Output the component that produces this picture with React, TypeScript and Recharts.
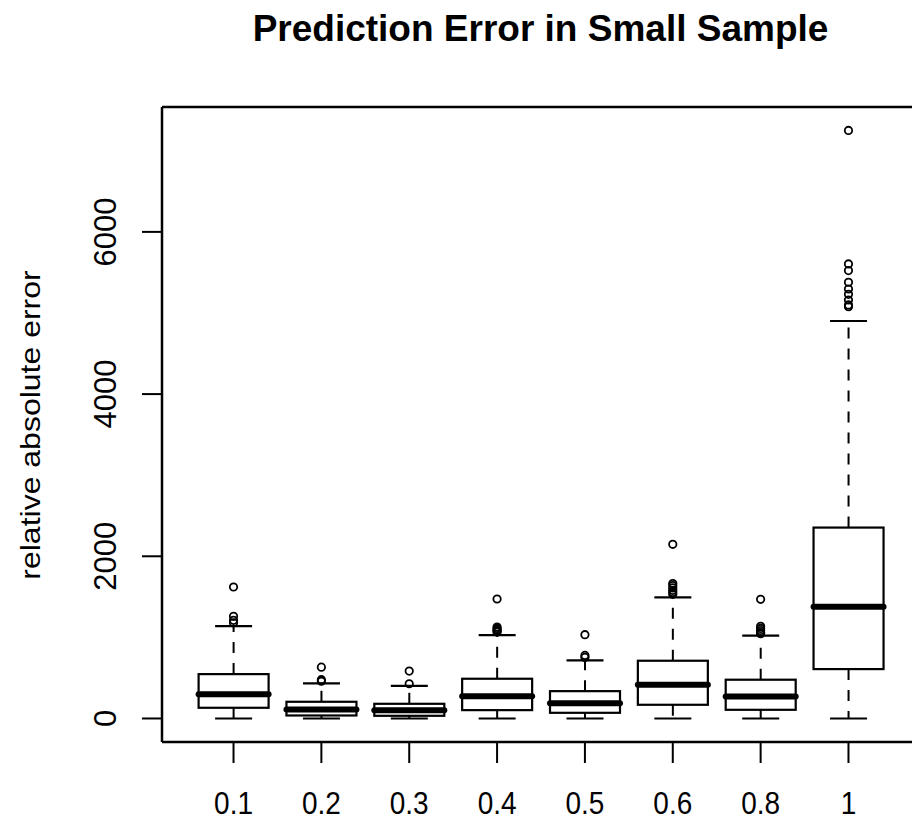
import React from 'react';
import { ComposedChart, Bar, Scatter, XAxis, YAxis, ReferenceLine } from 'recharts';

const categories = ['0.1', '0.2', '0.3', '0.4', '0.5', '0.6', '0.8', '1'];
const lowerWhisker = [0, 0, 0, 0, 0, 0, 0, 0];
const q1Values = [132, 37, 33, 103, 70, 169, 107, 609];
const medianValues = [300, 111, 103, 275, 189, 416, 272, 1379];
const q3Values = [547, 206, 181, 490, 337, 712, 478, 2354];
const upperWhisker = [1140, 432, 403, 1029, 716, 1494, 1021, 4901];

const outliers01 = [1621, 1260, 1210, 1180];
const outliers02 = [633, 478, 460];
const outliers03 = [584, 428];
const outliers04 = [1473, 1127, 1110, 1095, 1080, 1065];
const outliers05 = [1033, 778, 753];
const outliers06 = [2148, 1663, 1640, 1610, 1580, 1555, 1531];
const outliers08 = [1469, 1136, 1110, 1085, 1060, 1045];
const outliers1 = [7251, 5605, 5523, 5379, 5296, 5230, 5160, 5100, 5078];

const yTicks = [0, 2000, 4000, 6000];
const yDomain = [-290, 7540];

const FONT = '"Liberation Sans", Arial, Helvetica, sans-serif';
const CAP_HALF = 18.5;

const boxRows = categories.map((label, i) => ({
  label,
  seg0: q1Values[i] - lowerWhisker[i],
  seg1: medianValues[i] - q1Values[i],
  seg2: q3Values[i] - medianValues[i],
  seg3: upperWhisker[i] - q3Values[i],
}));

const outlierLists = [outliers01, outliers02, outliers03, outliers04, outliers05, outliers06, outliers08, outliers1];
const outlierRows = outlierLists.flatMap((list, i) => list.map((value) => ({ label: categories[i], value })));

const LowerWhiskerShape = (props: any) => {
  const { x, y, width, height } = props;
  const cx = x + width / 2;
  return (
    <g>
      <line x1={cx} y1={y} x2={cx} y2={y + height} stroke="#000" strokeWidth={2} strokeDasharray="11 10" />
      <line x1={cx - CAP_HALF} y1={y + height} x2={cx + CAP_HALF} y2={y + height} stroke="#000" strokeWidth={2.2} />
    </g>
  );
};

const LowerBoxShape = (props: any) => {
  const { x, y, width, height } = props;
  return <rect x={x} y={y} width={width} height={height} fill="none" stroke="#000" strokeWidth={2.2} />;
};

const UpperBoxShape = (props: any) => {
  const { x, y, width, height } = props;
  return (
    <g>
      <rect x={x} y={y} width={width} height={height} fill="none" stroke="#000" strokeWidth={2.2} />
      <line x1={x} y1={y + height} x2={x + width} y2={y + height} stroke="#000" strokeWidth={6} strokeLinecap="round" />
    </g>
  );
};

const UpperWhiskerShape = (props: any) => {
  const { x, y, width, height } = props;
  const cx = x + width / 2;
  return (
    <g>
      <line x1={cx} y1={y + height} x2={cx} y2={y} stroke="#000" strokeWidth={2} strokeDasharray="11 10" />
      <line x1={cx - CAP_HALF} y1={y} x2={cx + CAP_HALF} y2={y} stroke="#000" strokeWidth={2.2} />
    </g>
  );
};

const OutlierShape = (props: any) => {
  const { cx, cy } = props;
  return <circle cx={cx} cy={cy} r={3.7} fill="none" stroke="#000" strokeWidth={1.8} />;
};

const XTick = (props: any) => {
  const { x, y, payload } = props;
  const by = y + 49;
  return (
    <text
      x={0}
      y={0}
      textAnchor="middle"
      fontFamily={FONT}
      fontSize={28}
      fill="#000"
      transform={`translate(${x}, ${by}) scale(1, 1.15)`}
    >
      {payload.value}
    </text>
  );
};

const YTick = (props: any) => {
  const { x, y, payload } = props;
  const bx = x - 23.5;
  return (
    <text x={bx} y={y} textAnchor="middle" fontFamily={FONT} fontSize={31} fill="#000" transform={`rotate(-90, ${bx}, ${y})`}>
      {payload.value}
    </text>
  );
};

export default function App() {
  return (
    <div style={{ position: 'absolute', left: 0, top: 0, width: 912, height: 822, overflow: 'hidden', background: '#fff' }}>
      <ComposedChart
        width={922}
        height={822}
        data={boxRows}
        margin={{ top: 107, right: 2, bottom: 0, left: 82 }}
      >
        <XAxis
          dataKey="label"
          type="category"
          allowDuplicatedCategory={false}
          interval={0}
          padding={{ left: 27.6, right: 27.6 }}
          height={80}
          tickSize={21}
          tickMargin={2}
          axisLine={{ stroke: '#000', strokeWidth: 2.5 }}
          tickLine={{ stroke: '#000', strokeWidth: 2 }}
          tick={<XTick />}
        />
        <YAxis
          type="number"
          domain={yDomain}
          ticks={yTicks}
          allowDataOverflow
          width={80}
          tickSize={20}
          tickMargin={2}
          axisLine={{ stroke: '#000', strokeWidth: 2.5 }}
          tickLine={{ stroke: '#000', strokeWidth: 2 }}
          tick={<YTick />}
        />
        <ReferenceLine y={yDomain[1]} stroke="#000" strokeWidth={2.5} />
        <Bar dataKey="seg0" stackId="box" barSize={70} shape={<LowerWhiskerShape />} isAnimationActive={false} />
        <Bar dataKey="seg1" stackId="box" barSize={70} shape={<LowerBoxShape />} isAnimationActive={false} />
        <Bar dataKey="seg2" stackId="box" barSize={70} shape={<UpperBoxShape />} isAnimationActive={false} />
        <Bar dataKey="seg3" stackId="box" barSize={70} shape={<UpperWhiskerShape />} isAnimationActive={false} />
        <Scatter data={outlierRows} dataKey="value" shape={<OutlierShape />} isAnimationActive={false} />
      </ComposedChart>
      <svg width={912} height={822} style={{ position: 'absolute', left: 0, top: 0, pointerEvents: 'none' }}>
        <text x={540.5} y={41} textAnchor="middle" fontFamily={FONT} fontWeight="bold" fontSize={37} fill="#000">
          Prediction Error in Small Sample
        </text>
        <text
          x={0}
          y={0}
          textAnchor="middle"
          fontFamily={FONT}
          fontSize={32}
          fill="#000"
          transform="translate(39.5, 425) rotate(-90) scale(1, 0.85)"
        >
          relative absolute error
        </text>
      </svg>
    </div>
  );
}
